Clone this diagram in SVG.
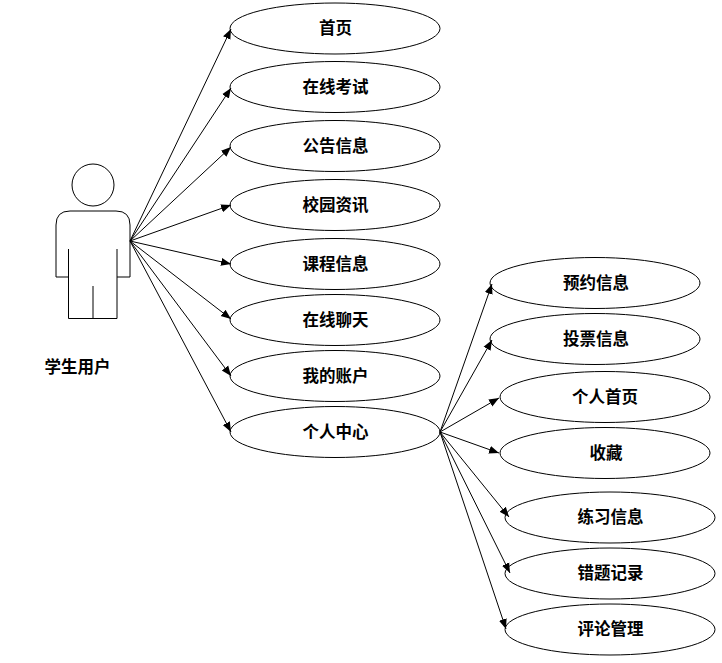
<svg xmlns="http://www.w3.org/2000/svg" width="722" height="663" viewBox="0 0 722 663">
<style>
.n ellipse{fill:#fff;stroke:#000;stroke-width:1}
text{font-family:"Noto Sans CJK SC","Noto Sans CJK JP",sans-serif;font-size:16.5px;font-weight:700;fill:#000;text-anchor:middle}
.c line{stroke:#000;stroke-width:1;marker-end:url(#a)}
.p{fill:none;stroke:#000;stroke-width:1}
</style>
<defs><marker id="a" markerUnits="userSpaceOnUse" markerWidth="12" markerHeight="10" refX="10" refY="5" orient="auto"><path d="M0 1L10 5L0 9Z" fill="#000"/></marker></defs>
<g id="actor" class="p">
<circle cx="93" cy="185" r="21"/>
<path d="M68.500 249V277H56V225Q56 211 70 211H116Q130 211 130 225V277H117V249M68.500 277V318.500H117V277M93 286V318.500"/>
<text x="77.500" y="373" stroke="none">学生用户</text>
</g>
<g id="n1" class="n"><ellipse cx="335" cy="28.500" rx="105" ry="25.500"/><text x="335.500" y="34">首页</text></g>
<g id="n2" class="n"><ellipse cx="335" cy="87" rx="105" ry="25.500"/><text x="335.500" y="93">在线考试</text></g>
<g id="n3" class="n"><ellipse cx="335" cy="146" rx="105" ry="25.500"/><text x="335.500" y="152">公告信息</text></g>
<g id="n4" class="n"><ellipse cx="335" cy="205" rx="105" ry="25.500"/><text x="335.500" y="211">校园资讯</text></g>
<g id="n5" class="n"><ellipse cx="335" cy="264" rx="105" ry="25.500"/><text x="335.500" y="270">课程信息</text></g>
<g id="n6" class="n"><ellipse cx="335" cy="320" rx="105" ry="25.500"/><text x="335.500" y="326">在线聊天</text></g>
<g id="n7" class="n"><ellipse cx="335" cy="376" rx="105" ry="25.500"/><text x="335.500" y="382">我的账户</text></g>
<g id="n8" class="n"><ellipse cx="335" cy="432" rx="105" ry="25.500"/><text x="335.500" y="438">个人中心</text></g>
<g id="n9" class="n"><ellipse cx="595" cy="283" rx="105" ry="25.500"/><text x="596" y="289">预约信息</text></g>
<g id="n10" class="n"><ellipse cx="595" cy="339" rx="105" ry="25.500"/><text x="596" y="345">投票信息</text></g>
<g id="n11" class="n"><ellipse cx="605" cy="397" rx="105" ry="25.500"/><text x="605" y="403">个人首页</text></g>
<g id="n12" class="n"><ellipse cx="605" cy="453" rx="105" ry="25.500"/><text x="606" y="459">收藏</text></g>
<g id="n13" class="n"><ellipse cx="610" cy="517.500" rx="105" ry="25.500"/><text x="610.500" y="523">练习信息</text></g>
<g id="n14" class="n"><ellipse cx="610" cy="573.500" rx="105" ry="25.500"/><text x="610.500" y="579">错题记录</text></g>
<g id="n15" class="n"><ellipse cx="610" cy="629.500" rx="105" ry="25.500"/><text x="610.500" y="635">评论管理</text></g>
<g id="connectors" class="c">
<line x1="130" y1="241" x2="231" y2="29"/>
<line x1="130" y1="241" x2="231" y2="88"/>
<line x1="130" y1="241" x2="231" y2="147"/>
<line x1="130" y1="241" x2="231" y2="205"/>
<line x1="130" y1="241" x2="231" y2="264"/>
<line x1="130" y1="241" x2="231" y2="319"/>
<line x1="130" y1="241" x2="231" y2="376"/>
<line x1="130" y1="241" x2="231" y2="432"/>
<line x1="440" y1="432" x2="492" y2="284"/>
<line x1="440" y1="432" x2="492" y2="340"/>
<line x1="440" y1="432" x2="499" y2="398"/>
<line x1="440" y1="432" x2="499" y2="453"/>
<line x1="440" y1="432" x2="509" y2="517"/>
<line x1="440" y1="432" x2="510" y2="573"/>
<line x1="440" y1="432" x2="506" y2="629"/>
</g>
</svg>
